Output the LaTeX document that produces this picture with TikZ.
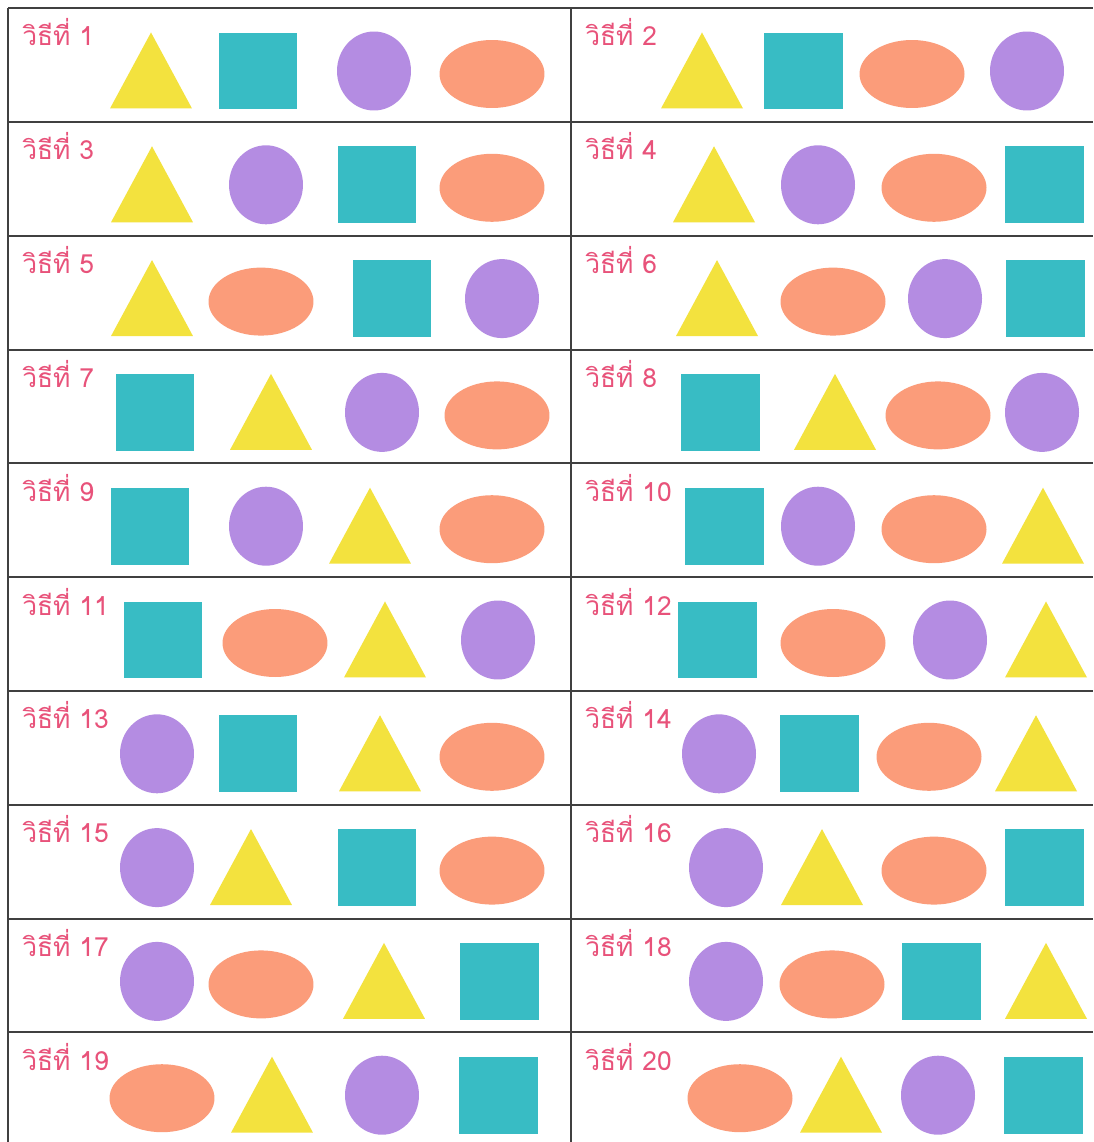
\documentclass[tikz,border=0pt]{standalone}
\usepackage{fontspec}
\newfontfamily\thaifont[Script=Thai]{Loma}
\usepackage{tikz}
\usetikzlibrary{shapes.geometric}
\definecolor{shapeyellow}{RGB}{243,226,62}
\definecolor{shapeteal}{RGB}{56,188,196}
\definecolor{shapepurple}{RGB}{180,140,226}
\definecolor{shapesalmon}{RGB}{251,156,122}
\definecolor{labelpink}{RGB}{232,82,122}

\begin{document}
\begin{tikzpicture}[x=0.02cm,y=-0.02cm,
  lbl/.style={anchor=base west,inner sep=0pt,text=labelpink,
              font=\thaifont\fontsize{15}{17}\selectfont},
  tri/.style={isosceles triangle,isosceles triangle stretches,shape border rotate=90,
              fill=shapeyellow,minimum width=1.64cm,minimum height=1.52cm,inner sep=0pt},
  sq/.style={rectangle,fill=shapeteal,minimum width=1.58cm,minimum height=1.54cm,inner sep=0pt},
  circ/.style={ellipse,fill=shapepurple,minimum width=1.48cm,minimum height=1.58cm,inner sep=0pt},
  oval/.style={ellipse,fill=shapesalmon,minimum width=2.1cm,minimum height=1.36cm,inner sep=0pt},
  gridline/.style={draw=black!75,line width=0.8pt}]
  \useasboundingbox[fill=white] (0,0) rectangle (1093,1142);
  % table lines
  \foreach \y in {8,122,236,350,463,577,691,805,919,1032}
    \draw[gridline] (8,\y) -- (1093,\y);
  \draw[gridline] (8,8) -- (8,1142);
  \draw[gridline] (571,8) -- (571,1142);
  % labels
  \foreach \n in {1,...,20}{
    \pgfmathsetmacro\lx{22+563*mod(\n-1,2)}
    \pgfmathsetmacro\ly{46+113.8*int((\n-1)/2)}
    \node[lbl] (lbl\n) at (\lx,\ly) {วิธีที่ \n};
  }
  % triangles
  \foreach \n/\x in {1/151,2/702,3/152,4/714,5/152,6/717,7/271,8/835,9/370,10/1043,
                     11/385,12/1046,13/380,14/1036,15/251,16/822,17/384,18/1046,19/272,20/841}{
    \pgfmathsetmacro\cy{84+113.8*int((\n-1)/2)}
    \node[tri] (tri\n) at (\x,\cy) {};
  }
  % squares
  \foreach \n/\x in {1/258,2/803,3/377,4/1044,5/392,6/1045,7/155,8/720,9/150,10/724,
                     11/163,12/717,13/258,14/819,15/377,16/1044,17/499,18/941,19/498,20/1043}{
    \pgfmathsetmacro\cy{71+113.8*int((\n-1)/2)}
    \node[sq] (sq\n) at (\x,\cy) {};
  }
  % circles
  \foreach \n/\x in {1/374,2/1027,3/266,4/818,5/502,6/945,7/382,8/1042,9/266,10/818,
                     11/498,12/950,13/157,14/719,15/157,16/726,17/157,18/726,19/382,20/938}{
    \pgfmathsetmacro\cy{71+113.8*int((\n-1)/2)}
    \node[circ] (circ\n) at (\x,\cy) {};
  }
  % ovals
  \foreach \n/\x in {1/492,2/912,3/492,4/934,5/261,6/833,7/497,8/938,9/492,10/934,
                     11/275,12/833,13/492,14/929,15/492,16/934,17/261,18/832,19/162,20/740}{
    \pgfmathsetmacro\cy{74+113.8*int((\n-1)/2)}
    \node[oval] (oval\n) at (\x,\cy) {};
  }
\end{tikzpicture}
\end{document}
